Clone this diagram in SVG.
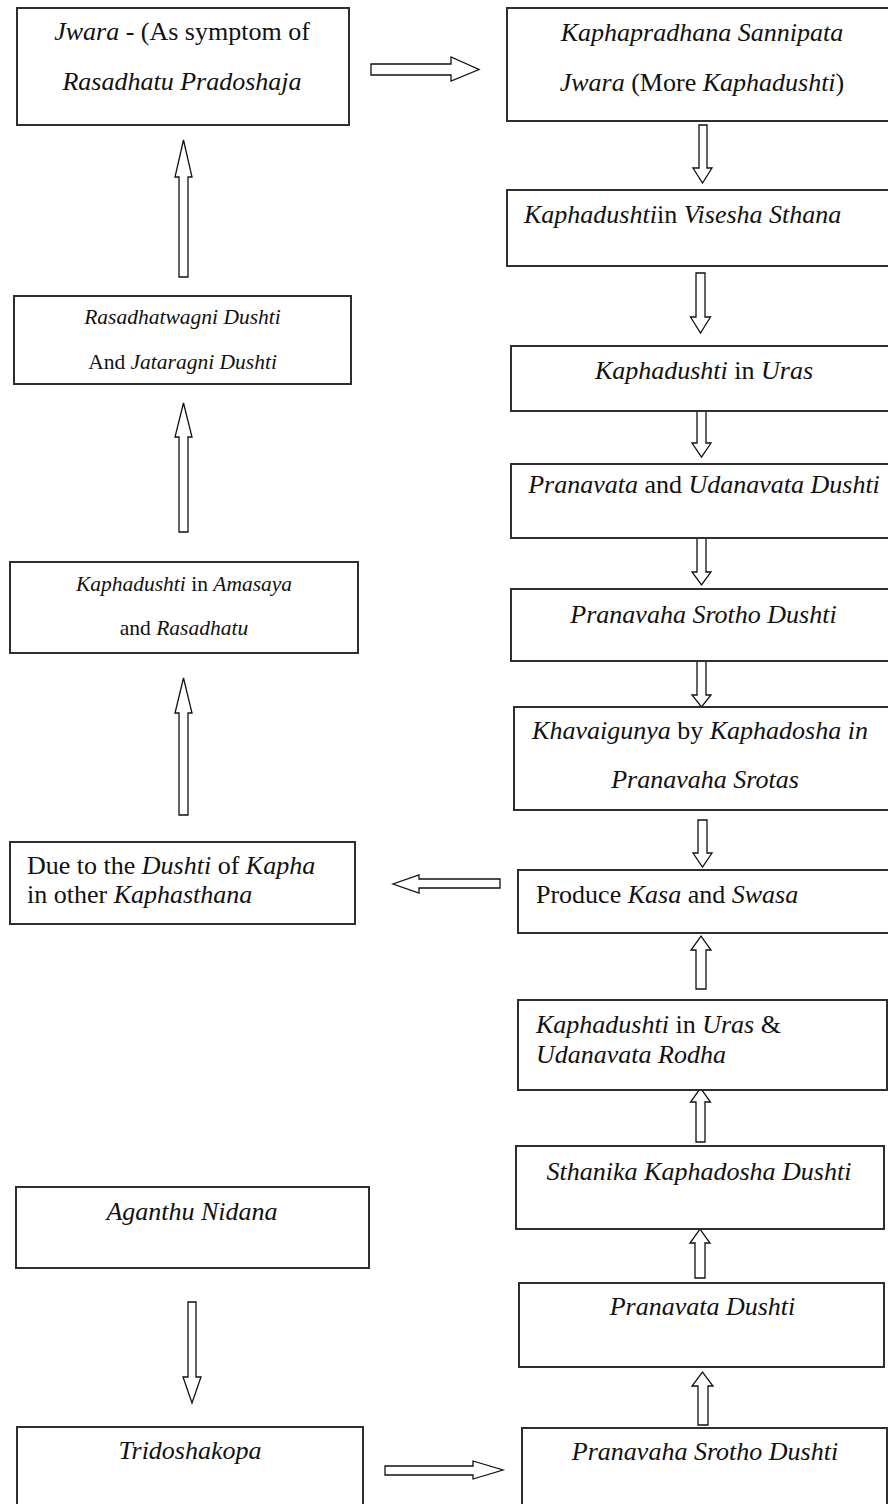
<svg xmlns="http://www.w3.org/2000/svg" width="888" height="1504" viewBox="0 0 888 1504">
<style>
.box{fill:#fff;stroke:#2e2e2e;stroke-width:2}
.arr{fill:#fff;stroke:#111;stroke-width:1.3;stroke-linejoin:miter}
text{font-family:"Liberation Serif","Times New Roman",serif;font-size:26px;fill:#111}
text.s{font-size:21.5px}
.i{font-style:italic}
.c{text-anchor:middle}
</style>
<rect width="888" height="1504" fill="#fff"/>
<g id="connectors">
<path class="arr" d="M371,64 H451 V57 L479,69.5 L451,81 V75 H371 Z"/>
<path class="arr" d="M699,125 H707 V168 H712 L702.5,183 L693,168 H699 Z"/>
<path class="arr" d="M696,273 H705 V317 H710.5 L700.5,333 L690.5,317 H696 Z"/>
<path class="arr" d="M697,411 H706 V443 H711 L701.5,457 L692,443 H697 Z"/>
<path class="arr" d="M697,538 H706 V572 H711 L701.5,585 L692,572 H697 Z"/>
<path class="arr" d="M697,661 H706 V695 H711 L701.5,707 L692,695 H697 Z"/>
<path class="arr" d="M698,820 H707 V853 H712 L702.5,867 L693,853 H698 Z"/>
<path class="arr" d="M500,879 H419 V875 L393,884 L419,893 V888 H500 Z"/>
<path class="arr" d="M696,989 H706 V950 H711 L701,936 L691,950 H696 Z"/>
<path class="arr" d="M696,1142 H705 V1102 H710.5 L700.5,1088 L690.5,1102 H696 Z"/>
<path class="arr" d="M695,1278 H705 V1243 H710 L700,1229 L690,1243 H695 Z"/>
<path class="arr" d="M698,1425 H708 V1386 H713 L702.5,1372 L692,1386 H698 Z"/>
<path class="arr" d="M385,1466 H473 V1461 L503,1470 L473,1479 V1475 H385 Z"/>
<path class="arr" d="M188,1302 H196 V1377 H201 L192,1403 L183,1377 H188 Z"/>
<path class="arr" d="M179,277 H188 V177 H192 L183.5,140 L175,177 H179 Z"/>
<path class="arr" d="M179,532 H188 V437 H192 L183.5,403 L175,437 H179 Z"/>
<path class="arr" d="M179,815 H188 V713 H192 L183.5,678 L175,713 H179 Z"/>
</g>
<g id="nA"><rect class="box" x="17" y="8" width="332" height="117"/>
<text class="c" x="182" y="40"><tspan class="i">Jwara</tspan> - (As symptom of</text>
<text class="c i" x="182" y="90">Rasadhatu Pradoshaja</text></g>
<g id="nB"><rect class="box" x="507" y="8" width="392" height="113"/>
<text class="c" x="702" y="41"><tspan class="i">Kaphapradhana Sannipata</tspan></text>
<text class="c" x="702" y="91"><tspan class="i">Jwara</tspan> (More <tspan class="i">Kaphadushti</tspan>)</text></g>
<g id="nC"><rect class="box" x="507" y="190" width="392" height="76"/>
<text x="524" y="223"><tspan class="i">Kaphadushti</tspan>in <tspan class="i">Visesha Sthana</tspan></text></g>
<g id="nE"><rect class="box" x="14" y="296" width="337" height="88"/>
<text class="c s i" x="182.5" y="324">Rasadhatwagni Dushti</text>
<text class="c s" x="182.5" y="369">And <tspan class="i">Jataragni Dushti</tspan></text></g>
<g id="nD"><rect class="box" x="511" y="346" width="388" height="65"/>
<text class="c" x="704" y="379"><tspan class="i">Kaphadushti</tspan> in <tspan class="i">Uras</tspan></text></g>
<g id="nG"><rect class="box" x="511" y="464" width="388" height="74"/>
<text class="c" x="704" y="493"><tspan class="i">Pranavata</tspan> and <tspan class="i">Udanavata Dushti</tspan></text></g>
<g id="nF"><rect class="box" x="10" y="562" width="348" height="91"/>
<text class="c s" x="184" y="591"><tspan class="i">Kaphadushti</tspan> in <tspan class="i">Amasaya</tspan></text>
<text class="c s" x="184" y="635">and <tspan class="i">Rasadhatu</tspan></text></g>
<g id="nH"><rect class="box" x="511" y="589" width="388" height="72"/>
<text class="c i" x="703.5" y="623">Pranavaha Srotho Dushti</text></g>
<g id="nI"><rect class="box" x="514" y="707" width="385" height="103"/>
<text class="c" x="700" y="739"><tspan class="i">Khavaigunya</tspan> by <tspan class="i">Kaphadosha in</tspan></text>
<text class="c i" x="705" y="788">Pranavaha Srotas</text></g>
<g id="nK"><rect class="box" x="10" y="842" width="345" height="82"/>
<text x="27" y="874">Due to the <tspan class="i">Dushti</tspan> of <tspan class="i">Kapha</tspan></text>
<text x="27" y="903">in other <tspan class="i">Kaphasthana</tspan></text></g>
<g id="nJ"><rect class="box" x="518" y="870" width="381" height="63"/>
<text x="536" y="903">Produce <tspan class="i">Kasa</tspan> and <tspan class="i">Swasa</tspan></text></g>
<g id="nL"><rect class="box" x="518" y="1000" width="369" height="90"/>
<text x="536" y="1033"><tspan class="i">Kaphadushti</tspan> in <tspan class="i">Uras</tspan> &amp;</text>
<text class="i" x="536" y="1063">Udanavata Rodha</text></g>
<g id="nM"><rect class="box" x="516" y="1146" width="368" height="83"/>
<text class="c i" x="699" y="1180">Sthanika Kaphadosha Dushti</text></g>
<g id="nN"><rect class="box" x="16" y="1187" width="353" height="81"/>
<text class="c i" x="192" y="1220">Aganthu Nidana</text></g>
<g id="nP"><rect class="box" x="519" y="1283" width="365" height="84"/>
<text class="c i" x="702.5" y="1315">Pranavata Dushti</text></g>
<g id="nO"><rect class="box" x="17" y="1427" width="346" height="90"/>
<text class="c i" x="190" y="1459">Tridoshakopa</text></g>
<g id="nQ"><rect class="box" x="522" y="1428" width="365" height="90"/>
<text class="c i" x="705" y="1460">Pranavaha Srotho Dushti</text></g>
</svg>
